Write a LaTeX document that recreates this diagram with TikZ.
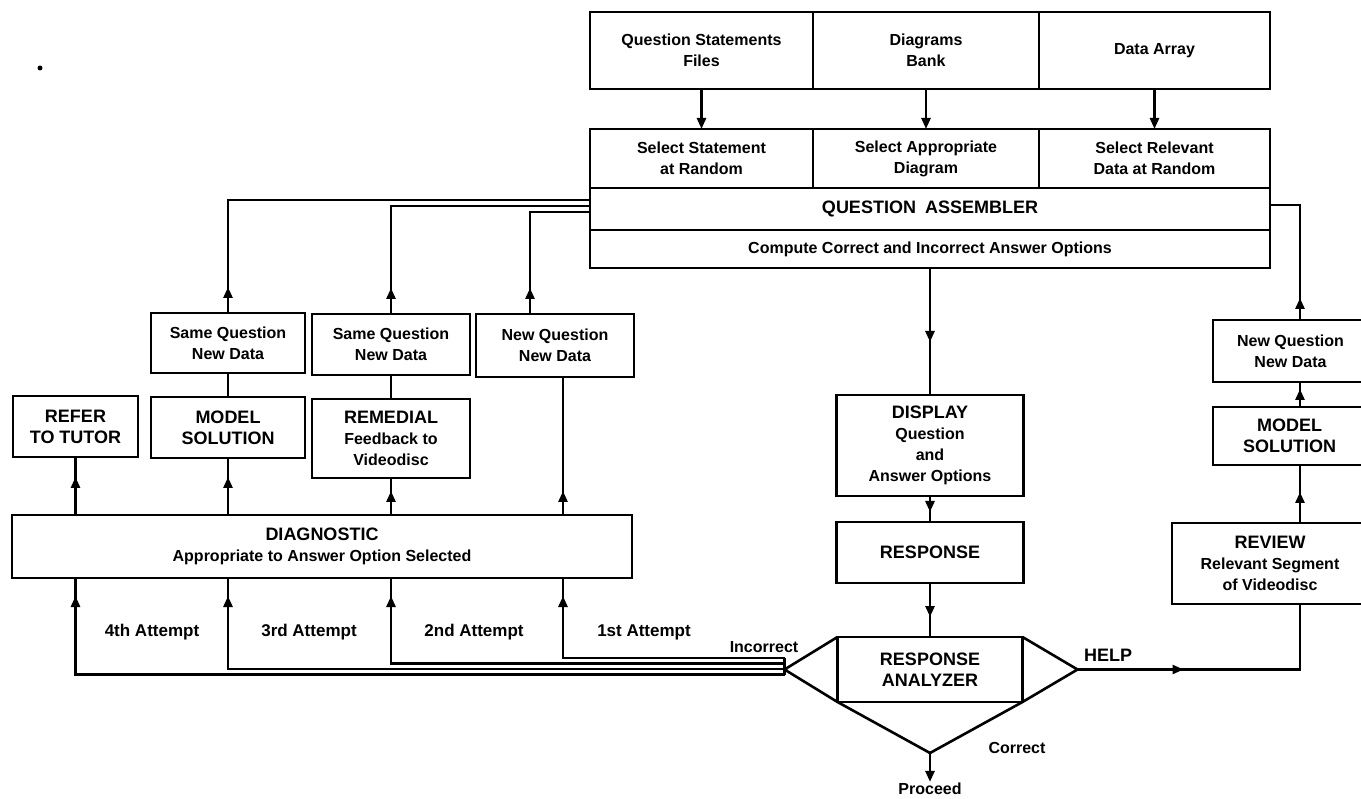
\documentclass[tikz,border=0pt]{standalone}
\usepackage{fontspec}
\setmainfont{Liberation Sans}
\usetikzlibrary{arrows.meta,decorations.markings}
\newcommand\labfont{\fontsize{16}{21}\selectfont\bfseries}
\newcommand\capfont{\fontsize{18}{21}\selectfont\bfseries}
\newcommand\attfont{\fontsize{17}{21}\selectfont\bfseries}
\tikzset{
  blk/.style={draw, line width=2.6pt, inner sep=0pt, outer sep=0pt, align=center, font=\labfont},
  lbl/.style={inner sep=1pt, font=\labfont},
  wire/.style={line width=2.6pt},
  tipend/.style={wire, -{Triangle[length=11pt,width=9pt]}},
  arrowat/.style={wire, postaction={decorate},
    decoration={markings, mark=at position #1 with {\arrow{Triangle[length=11pt,width=9pt]}}}},
}
\begin{document}
\begin{tikzpicture}[x=1pt,y=-1pt]
\useasboundingbox (0,0) rectangle (1361,799);
\fill[white] (0,0) rectangle (1361,799);
\clip (0,0) rectangle (1361,799);

\fill (40,68) circle (2.5pt);

% question sources and selectors
\node[blk, minimum width=223pt, minimum height=77pt] (qs) at (701.5,50.5) {Question Statements\\Files};
\node[blk, minimum width=226pt, minimum height=77pt] (db) at (926,50.5) {Diagrams\\Bank};
\node[blk, minimum width=231pt, minimum height=77pt] (da) at (1154.5,50.5) {Data Array};
\node[blk, minimum width=223pt, minimum height=59pt] (ss) at (701.5,158.5) {Select Statement\\at Random};
\node[blk, minimum width=226pt, minimum height=59pt] (sa) at (926,158.5) {Select Appropriate\\Diagram};
\node[blk, minimum width=231pt, minimum height=59pt] (sr) at (1154.5,158.5) {Select Relevant\\Data at Random};
\node[blk, minimum width=680pt, minimum height=42pt, font=\capfont] (qa) at (930,209) {QUESTION\hspace{0.5em}ASSEMBLER};
\node[blk, minimum width=680pt, minimum height=38pt] (cc) at (930,249) {Compute Correct and Incorrect Answer Options};

\draw[tipend] (qs.south) -- (ss.north);
\draw[tipend] (db.south) -- (sa.north);
\draw[tipend] (da.south) -- (sr.north);

% presentation and analysis
\node[blk, minimum width=187pt, minimum height=101pt] (disp) at (930,445.5) {{\capfont DISPLAY}\\Question\\and\\Answer Options};
\node[blk, minimum width=187pt, minimum height=61pt, font=\capfont] (resp) at (930,552.5) {RESPONSE};
\node[blk, minimum width=185pt, minimum height=65pt, font=\capfont] (ra) at (930,669.5) {RESPONSE\\ANALYZER};
\coordinate (lt) at ([xshift=-53pt]ra.west);
\coordinate (rt) at ([xshift=55pt]ra.east);
\coordinate (bt) at ([yshift=-51pt]ra.south);
\draw[wire, line join=miter] (ra.north west) -- (lt) -- (ra.south west) -- (bt) -- (ra.south east) -- (rt) -- (ra.north east);
\node[lbl] (proceed) at (930,789) {Proceed};

\draw[arrowat=74pt] (cc.south) -- (disp.north);
\draw[arrowat=16pt] (disp.south) -- (resp.north);
\draw[arrowat=34pt] (resp.south) -- (ra.north);
\draw[tipend] (bt) -- (proceed.north);

\node[lbl] (incorrect) at (764,647) {Incorrect};
\node[lbl, font=\capfont] (help) at (1108,655) {HELP};
\node[lbl] (correct) at (1017,748) {Correct};

% remediation branch
\node[blk, minimum width=154pt, minimum height=60pt] (sq1) at (228,343) {Same Question\\New Data};
\node[blk, minimum width=158pt, minimum height=61pt] (sq2) at (391,344.5) {Same Question\\New Data};
\node[blk, minimum width=158pt, minimum height=63pt] (nql) at (555,345.5) {New Question\\New Data};
\node[blk, minimum width=125pt, minimum height=61pt, font=\capfont] (refer) at (75.5,426.5) {REFER\\TO TUTOR};
\node[blk, minimum width=154pt, minimum height=61pt, font=\capfont] (model) at (228,427.5) {MODEL\\SOLUTION};
\node[blk, minimum width=158pt, minimum height=79pt] (remed) at (391,438.5) {{\capfont REMEDIAL}\\Feedback to\\Videodisc};
\node[blk, minimum width=620pt, minimum height=63pt] (diag) at (322,546.5) {{\capfont DIAGNOSTIC}\\Appropriate to Answer Option Selected};

\coordinate (c1) at (563,0);
\coordinate (c6) at (530,0);

\draw[arrowat=26pt] (sq1.north) |- ([yshift=9pt]qa.west);
\draw[arrowat=26pt] (sq2.north) |- ([yshift=3pt]qa.west);
\draw[arrowat=26pt] (c6 |- nql.north) |- ([yshift=-3pt]qa.west);
\draw[wire] (model.north) -- (sq1.south);
\draw[wire] (remed.north) -- (sq2.south);

\draw[arrowat=38pt] (refer.south |- diag.north) -- (refer.south);
\draw[arrowat=38pt] (model.south |- diag.north) -- (model.south);
\draw[arrowat=24pt] (remed.south |- diag.north) -- (remed.south);
\draw[arrowat=24pt] (c1 |- diag.north) -- (c1 |- nql.south);

% incorrect responses, by attempt
\coordinate (b1) at ([yshift=11.5pt]lt);
\coordinate (b2) at ([yshift=6pt]lt);
\coordinate (b3) at ([yshift=0.5pt]lt);
\coordinate (b4) at ([yshift=-5pt]lt);
\draw[wire] (b1) -- (b4);
\draw[arrowat=-18pt] (b1) -| (c1 |- diag.south);
\draw[arrowat=-18pt] (b2) -| (remed.south |- diag.south);
\draw[arrowat=-18pt] (b3) -| (model.south |- diag.south);
\draw[arrowat=-18pt] (b4) -| (refer.south |- diag.south);

\node[lbl, font=\attfont] (a4) at (152,632) {4th Attempt};
\node[lbl, font=\attfont] (a3) at (309,632) {3rd Attempt};
\node[lbl, font=\attfont] (a2) at (474,632) {2nd Attempt};
\node[lbl, font=\attfont] (a1) at (644,632) {1st Attempt};

% help branch
\node[blk, minimum width=155pt, minimum height=62pt] (nqr) at (1290.5,351) {New Question\\New Data};
\node[blk, minimum width=153pt, minimum height=58pt, font=\capfont] (mr) at (1289.5,436) {MODEL\\SOLUTION};
\node[blk, minimum width=196pt, minimum height=81pt] (rev) at (1270,563.5) {{\capfont REVIEW}\\Relevant Segment\\of Videodisc};

\coordinate (c5) at (1300,0);
\draw[arrowat=106pt] (rt) -| (c5 |- rev.south);
\draw[arrowat=31pt] (c5 |- rev.north) -- (c5 |- mr.south);
\draw[arrowat=18pt] (c5 |- mr.north) -- (c5 |- nqr.south);
\draw[arrowat=22pt] (c5 |- nqr.north) |- ([yshift=4pt]qa.east);
\end{tikzpicture}
\end{document}
